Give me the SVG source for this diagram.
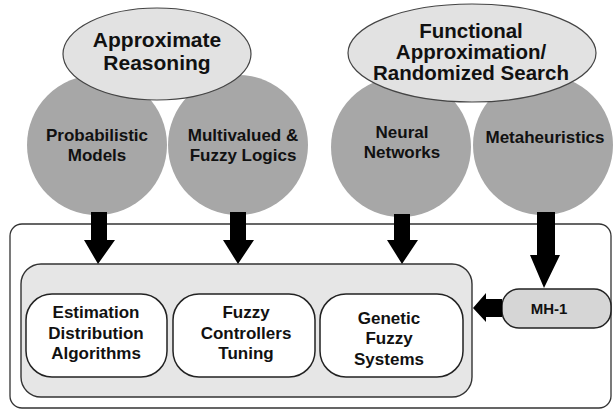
<svg xmlns="http://www.w3.org/2000/svg" width="613" height="410" viewBox="0 0 613 410">
<style>
text{font-family:"Liberation Sans",Arial,sans-serif;font-weight:bold;fill:#111;text-anchor:middle}
.c{fill:#a7a7a7;stroke:none}
.e{fill:#e2e2e2;stroke:#444;stroke-width:1.2}
.box{fill:#fff;stroke:#222;stroke-width:1.5}
.arr{fill:#000}
</style>
<rect width="613" height="410" fill="#fff"/>
<g id="outer"><rect x="10" y="224" width="601" height="184" rx="12" fill="#fff" stroke="#333" stroke-width="1.3"/></g>
<g id="probabilistic"><circle class="c" cx="97" cy="145" r="70"/><text x="97" y="141" font-size="17">Probabilistic</text><text x="97" y="161" font-size="17">Models</text></g>
<g id="multivalued"><circle class="c" cx="238" cy="145" r="70"/><text x="243" y="141" font-size="17">Multivalued &amp;</text><text x="243" y="161" font-size="17">Fuzzy Logics</text></g>
<g id="neural"><circle class="c" cx="401" cy="147" r="70"/><text x="402" y="138" font-size="17">Neural</text><text x="402" y="158" font-size="17">Networks</text></g>
<g id="metaheuristics"><circle class="c" cx="543" cy="145" r="70"/><text x="545" y="143" font-size="17">Metaheuristics</text></g>
<g id="approx"><ellipse class="e" cx="157" cy="54" rx="94" ry="46"/><text x="157" y="47" font-size="21">Approximate</text><text x="157" y="70" font-size="21">Reasoning</text></g>
<g id="functional"><ellipse class="e" cx="472" cy="53" rx="124" ry="49"/><text x="471" y="38" font-size="20.5">Functional</text><text x="471" y="59" font-size="20.5">Approximation/</text><text x="471" y="80" font-size="20.5">Randomized Search</text></g>
<g id="inner"><rect x="21" y="264" width="451" height="133" rx="20" fill="#e6e6e6" stroke="#333" stroke-width="1.4"/></g>
<g id="eda"><rect class="box" x="26" y="294" width="141" height="83" rx="26"/><text x="96" y="318" font-size="17">Estimation</text><text x="96" y="339" font-size="17">Distribution</text><text x="96" y="359" font-size="17">Algorithms</text></g>
<g id="fct"><rect class="box" x="173" y="294" width="142" height="83" rx="26"/><text x="246" y="318" font-size="17">Fuzzy</text><text x="246" y="339" font-size="17">Controllers</text><text x="246" y="359" font-size="17">Tuning</text></g>
<g id="gfs"><rect class="box" x="320" y="294" width="143" height="83" rx="26"/><text x="389" y="324" font-size="17">Genetic</text><text x="389" y="344" font-size="17">Fuzzy</text><text x="389" y="365" font-size="17">Systems</text></g>
<g id="mh1"><rect x="502" y="289" width="109" height="39" rx="17" fill="#d6d6d6" stroke="#222" stroke-width="1.5"/><text x="549" y="314" font-size="15">MH-1</text></g>
<g id="connectors">
<polygon class="arr" points="91,212 107,212 107,240 115,240 98,264 84,240 91,240"/>
<polygon class="arr" points="230,212 246,212 246,240 254,240 238,264 223,240 230,240"/>
<polygon class="arr" points="394,214 410,214 410,240 418,240 402,264 387,240 394,240"/>
<polygon class="arr" points="537,212 555,212 555,255 560,255 544,288 530,255 537,255"/>
<polygon class="arr" points="502,299 486,299 486,293 473,308 486,322 486,317 502,317"/>
</g>
</svg>
